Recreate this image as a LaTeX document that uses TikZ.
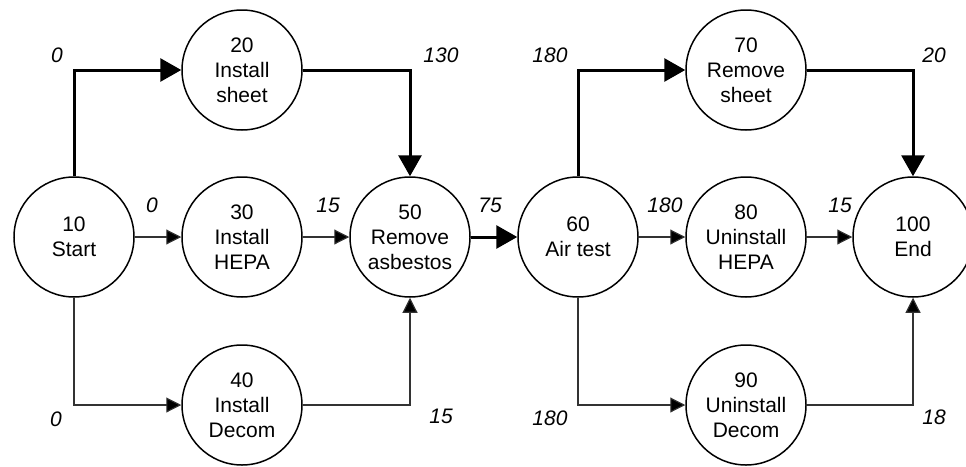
\documentclass[tikz,border=0pt]{standalone}
\usepackage{fontspec}
\setmainfont{Liberation Sans}
\usetikzlibrary{arrows.meta}
\begin{document}
\begin{tikzpicture}[x=1pt,y=-1pt,
  event/.style={circle,draw,line width=1.5pt,minimum size=120pt,inner sep=0pt,
    align=center,font=\fontsize{21}{25}\selectfont},
  crit/.style={line width=3pt,-{Triangle[length=21pt,width=23pt]}},
  act/.style={line width=1.1pt,draw=black!80,-{Triangle[length=15pt,width=15pt,fill=black]}},
  lag/.style={font=\fontsize{21}{25}\selectfont\itshape,inner sep=0pt}]
\useasboundingbox (0,0) rectangle (966,466);

% events
\node[event] (n10)  at (74,237)  {10\\Start};
\node[event] (n20)  at (242,70)  {20\\Install\\sheet};
\node[event] (n30)  at (242,237) {30\\Install\\HEPA};
\node[event] (n40)  at (242,405) {40\\Install\\Decom};
\node[event] (n50)  at (410,237) {50\\Remove\\asbestos};
\node[event] (n60)  at (578,237) {60\\Air test};
\node[event] (n70)  at (746,70)  {70\\Remove\\sheet};
\node[event] (n80)  at (746,237) {80\\Uninstall\\HEPA};
\node[event] (n90)  at (746,405) {90\\Uninstall\\Decom};
\node[event] (n100) at (913,237) {100\\End};

% critical path
\draw[crit] (n10.north) |- (n20.west);
\draw[crit] (n20.east) -| (n50.north);
\draw[crit] (n50) -- (n60);
\draw[crit] (n60.north) |- (n70.west);
\draw[crit] (n70.east) -| (n100.north);

% other activities
\draw[act] (n10) -- (n30);
\draw[act] (n30) -- (n50);
\draw[act] (n10.south) |- (n40.west);
\draw[act] (n40.east) -| (n50.south);
\draw[act] (n60) -- (n80);
\draw[act] (n80) -- (n100);
\draw[act] (n60.south) |- (n90.west);
\draw[act] (n90.east) -| (n100.south);

% start times
\node[lag] (t1)  at (57,55)   {0};
\node[lag] (t2)  at (441,55)  {130};
\node[lag] (t3)  at (152,205) {0};
\node[lag] (t4)  at (328,205) {15};
\node[lag] (t5)  at (490,205) {75};
\node[lag] (t6)  at (550,55)  {180};
\node[lag] (t7)  at (934,55)  {20};
\node[lag] (t8)  at (665,205) {180};
\node[lag] (t9)  at (840,205) {15};
\node[lag] (t10) at (56,419)  {0};
\node[lag] (t11) at (441,416) {15};
\node[lag] (t12) at (550,418) {180};
\node[lag] (t13) at (934,417) {18};
\end{tikzpicture}
\end{document}
